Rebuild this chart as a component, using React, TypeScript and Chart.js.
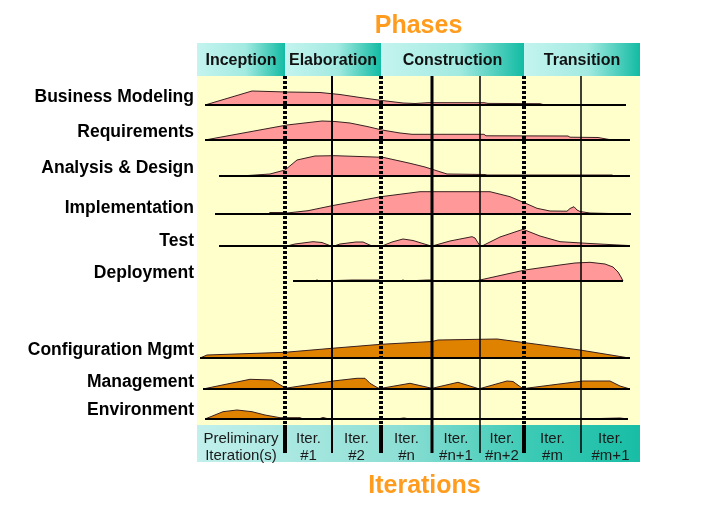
import React, { useEffect, useRef } from 'react';
import { Chart, registerables } from 'chart.js';

Chart.register(...registerables);

// ---- Data ----
const disciplines = [
  'Business Modeling',
  'Requirements',
  'Analysis & Design',
  'Implementation',
  'Test',
  'Deployment',
  'Configuration Mgmt',
  'Management',
  'Environment',
];
const rowBase = [320, 285, 249, 211, 179, 144, 67, 36, 6];
const labelLevel = [328, 293, 257, 217, 184, 152, 75, 43, 15];
const baseStart = [8, 8, 22, 18, 22, 96, 3, 6, 8];
const baseEnd = [429, 433, 433, 434, 433, 426, 433, 433, 431];
const isSupporting = [false, false, false, false, false, false, true, true, true];

// effort profiles: [time, effort]
const businessModeling: [number, number][] = [
  [8, 0], [55, 14], [90, 13], [123, 12.5], [143, 10.5], [163, 7.5], [185, 4.5], [206, 2],
  [218, 1.5], [231, 2.3], [287, 2.3], [291, 1.6], [343, 1.3], [348, 0], [429, 0],
];
const requirements: [number, number][] = [
  [8, 0], [90, 15], [125, 19], [138, 18.5], [153, 17], [171, 13.3], [185, 10], [203, 7],
  [215, 5.7], [287, 5.7], [289, 4.2], [371, 4], [373, 2.8], [401, 2.5], [415, 0], [433, 0],
];
const analysisDesign: [number, number][] = [
  [22, 0], [51, 0.5], [73, 2], [88, 6], [100, 16], [118, 20], [138, 20.3], [186, 18.7],
  [213, 12.7], [228, 9], [250, 2], [288, 1.5], [290, 1], [415, 1], [417, 0], [433, 0],
];
const implementation: [number, number][] = [
  [18, 0], [71, 0], [73, 1.5], [88, 1.5], [90, 1], [111, 3.3], [136, 8.5], [184, 17.3],
  [223, 22.3], [293, 22.3], [313, 17.3], [328, 11], [340, 5.7], [353, 3], [370, 2.8],
  [373, 5.5], [377, 7.3], [380, 4], [383, 2.5], [393, 1], [413, 0.5], [415, 0], [434, 0],
];
const test: [number, number][] = [
  [22, 0], [90, 0], [98, 2], [116, 4.3], [125, 3.5], [134, 0], [137, 0], [143, 2], [159, 4],
  [166, 4], [175, 0], [185, 0], [195, 4], [206, 7], [216, 5.5], [234, 0], [237, 0.5],
  [253, 5], [275, 9.3], [278, 8], [283, 0], [285, 0], [303, 9], [326, 16.7], [343, 10],
  [363, 4.3], [393, 2.5], [431, 0.5], [433, 0],
];
const deployment: [number, number][] = [
  [96, 0], [117, 0], [120, 1], [123, 0], [155, 1], [182, 1], [184, 0], [203, 0], [206, 1],
  [209, 0], [230, 1], [235, 1], [236, 0], [278, 0], [283, 1], [328, 11], [363, 16],
  [378, 18], [393, 18.7], [408, 17], [416, 14], [421, 9], [424, 4], [426, 0],
];
const configMgmt: [number, number][] = [
  [3, 0], [10, 3], [88, 5.7], [135, 9.7], [184, 13.7], [235, 16.5], [241, 18], [300, 19],
  [328, 15.3], [383, 8], [428, 0.7], [431, 0],
];
const management: [number, number][] = [
  [6, 0], [53, 9.7], [75, 9], [88, 1.3], [90, 1], [136, 8], [160, 10.7], [168, 10.7],
  [173, 5.7], [181, 1], [184, 0.5], [186, 1], [213, 5.7], [235, 0.7], [261, 6.7], [281, 0.5],
  [283, 0.5], [285, 1], [310, 8], [316, 7.5], [325, 1], [328, 0.5], [331, 1], [386, 8],
  [413, 8], [423, 3], [433, 0],
];
const environment: [number, number][] = [
  [8, 0], [26, 7.3], [40, 9], [55, 7.3], [68, 4], [83, 1.3], [103, 1.3], [105, 0.5],
  [123, 0.5], [126, 1.5], [130, 0.5], [203, 0.5], [207, 1], [211, 0.3], [273, 0.5],
  [403, 0.5], [423, 1], [431, 0],
];
const profiles = [
  businessModeling, requirements, analysisDesign, implementation, test, deployment,
  configMgmt, management, environment,
];

const phases = ['Inception', 'Elaboration', 'Construction', 'Transition'];
const phaseBounds = [0, 88, 184, 327, 443];
const iterationLine1 = ['Preliminary', 'Iter.', 'Iter.', 'Iter.', 'Iter.', 'Iter.', 'Iter.', 'Iter.'];
const iterationLine2 = ['Iteration(s)', '#1', '#2', '#n', '#n+1', '#n+2', '#m', '#m+1'];
const iterBounds = [0, 88, 135, 184, 235, 283, 327, 384, 443];
const iterLineWidths = [0, 4, 2, 4, 3, 1.5, 4, 1.5, 0];

const TOP = 349;
const ROW_DEPTH = -28;

const FONT = '"Liberation Sans", Arial, sans-serif';

const decorPlugin = {
  id: 'decor',
  beforeDraw(chart: any) {
    const { ctx, chartArea: a, scales } = chart;
    const x = scales.x;
    ctx.save();
    // plot background
    ctx.fillStyle = '#FFFFCC';
    ctx.fillRect(a.left, a.top, a.right - a.left, a.bottom - a.top);

    // phase header boxes
    for (let i = 0; i < phases.length; i++) {
      const x0 = x.getPixelForValue(phaseBounds[i]);
      const x1 = x.getPixelForValue(phaseBounds[i + 1]);
      const g = ctx.createLinearGradient(x0, 0, x1, 0);
      g.addColorStop(0, '#C4F4EF');
      g.addColorStop(0.55, '#A2EAE1');
      g.addColorStop(1, '#12BBA3');
      ctx.fillStyle = g;
      ctx.fillRect(x0, a.top - 33, x1 - x0, 33);
      ctx.fillStyle = '#111';
      ctx.font = `bold 16px ${FONT}`;
      ctx.textAlign = 'center';
      ctx.textBaseline = 'alphabetic';
      ctx.fillText(phases[i], (x0 + x1) / 2, a.top - 11);
    }

    // iteration row
    const rg = ctx.createLinearGradient(a.left, 0, a.right, 0);
    rg.addColorStop(0, '#C2F0EC');
    rg.addColorStop(0.45, '#8EDFD5');
    rg.addColorStop(0.75, '#3CCAB5');
    rg.addColorStop(1, '#18BDA5');
    ctx.fillStyle = rg;
    ctx.fillRect(a.left, a.bottom, a.right - a.left, 37);
    ctx.fillStyle = '#1a1a1a';
    ctx.font = `15px ${FONT}`;
    ctx.textAlign = 'center';
    for (let i = 0; i < iterationLine1.length; i++) {
      const x0 = x.getPixelForValue(iterBounds[i]);
      const x1 = x.getPixelForValue(iterBounds[i + 1]);
      const cx = (x0 + x1) / 2;
      ctx.fillText(iterationLine1[i], cx, a.bottom + 18);
      ctx.fillText(iterationLine2[i], cx, a.bottom + 34.5);
    }

    // titles
    const cx = (a.left + a.right) / 2;
    ctx.fillStyle = '#FF9C1E';
    ctx.font = `bold 25px ${FONT}`;
    ctx.fillText('Phases', cx, 33);
    ctx.fillText('Iterations', cx + 6, a.bottom + 68);
    ctx.restore();
  },
};

function buildDatasets() {
  const ds: any[] = [];
  profiles.forEach((p, i) => {
    const base = rowBase[i];
    const color = isSupporting[i] ? '#DF8200' : '#FF9999';
    ds.push({
      data: p.map(([t, v]) => ({ x: t, y: base + v })),
      fill: { value: base },
      backgroundColor: color,
      borderColor: '#3a2020',
      borderWidth: 1,
      pointRadius: 0,
      tension: 0,
      order: 3,
    });
    ds.push({
      data: [
        { x: baseStart[i], y: base },
        { x: baseEnd[i], y: base },
      ],
      fill: false,
      borderColor: '#000',
      borderWidth: 2,
      pointRadius: 0,
      order: 2,
    });
  });
  for (let k = 1; k < iterBounds.length - 1; k++) {
    const b = iterBounds[k];
    const isPhase = phaseBounds.includes(b);
    ds.push({
      data: [
        { x: b, y: TOP },
        { x: b, y: 0 },
      ],
      fill: false,
      borderColor: '#000',
      borderWidth: iterLineWidths[k],
      borderDash: isPhase ? [3, 2] : [],
      pointRadius: 0,
      order: 1,
    });
    ds.push({
      data: [
        { x: b, y: 0 },
        { x: b, y: ROW_DEPTH },
      ],
      fill: false,
      borderColor: '#000',
      borderWidth: iterLineWidths[k],
      pointRadius: 0,
      clip: false,
      order: 1,
    });
  }
  return ds;
}

export default function App() {
  const ref = useRef<HTMLCanvasElement | null>(null);
  useEffect(() => {
    if (!ref.current) return;
    const chart = new Chart(ref.current, {
      type: 'line',
      data: { datasets: buildDatasets() },
      options: {
        animation: false,
        responsive: false,
        devicePixelRatio: 1,
        layout: { padding: { left: 0, right: 88, top: 76, bottom: 80 } },
        plugins: {
          legend: { display: false },
          tooltip: { enabled: false },
          filler: { propagate: false },
        },
        scales: {
          x: {
            type: 'linear',
            min: phaseBounds[0],
            max: phaseBounds[phaseBounds.length - 1],
            display: false,
          },
          y: {
            type: 'linear',
            min: 0,
            max: TOP,
            grid: { display: false, drawTicks: false },
            border: { display: false },
            afterFit: (s: any) => {
              s.width = 197;
            },
            afterBuildTicks: (s: any) => {
              s.ticks = labelLevel.map((v) => ({ value: v }));
            },
            ticks: {
              autoSkip: false,
              padding: 3,
              color: '#000',
              font: { family: FONT, size: 17.5, weight: 'bold' },
              callback: (_v: any, idx: number) => disciplines[idx],
            },
          },
        },
      } as any,
      plugins: [decorPlugin],
    });
    return () => chart.destroy();
  }, []);
  return (
    <div style={{ position: 'absolute', left: 0, top: 0, width: 728, height: 505, background: '#fff' }}>
      <canvas ref={ref} width={728} height={505} />
    </div>
  );
}
